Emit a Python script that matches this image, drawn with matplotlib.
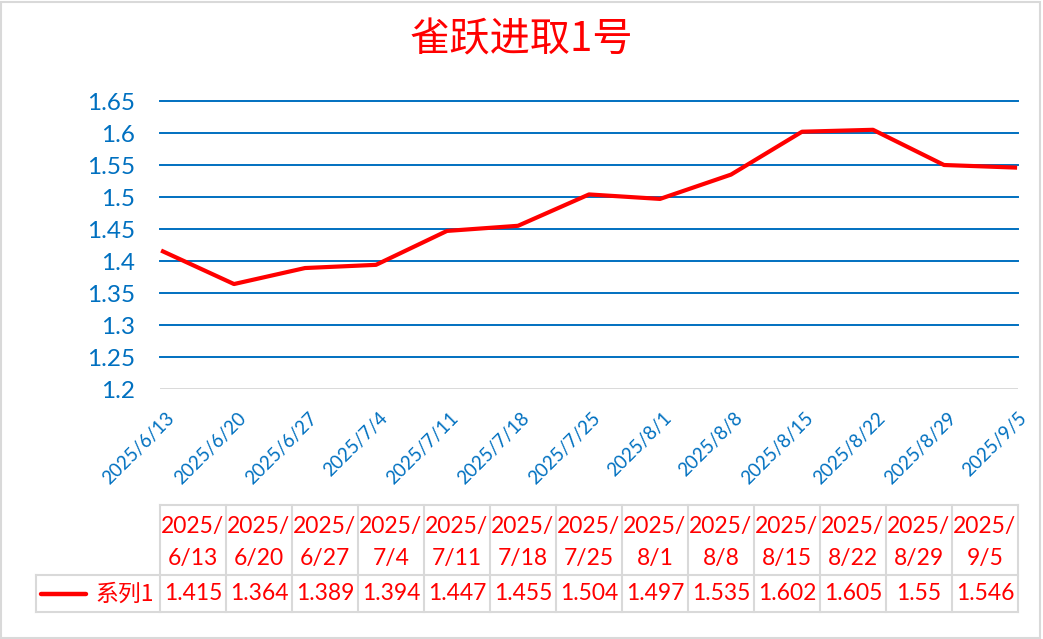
import matplotlib.pyplot as plt
import numpy as np
from matplotlib.patches import Rectangle
from matplotlib.transforms import ScaledTranslation

# chart data
dates = ['2025/6/13', '2025/6/20', '2025/6/27', '2025/7/4', '2025/7/11',
         '2025/7/18', '2025/7/25', '2025/8/1', '2025/8/8', '2025/8/15',
         '2025/8/22', '2025/8/29', '2025/9/5']
values = [1.415, 1.364, 1.389, 1.394, 1.447, 1.455, 1.504, 1.497,
          1.535, 1.602, 1.605, 1.55, 1.546]
value_labels = ['1.415', '1.364', '1.389', '1.394', '1.447', '1.455', '1.504',
                '1.497', '1.535', '1.602', '1.605', '1.55', '1.546']
yticks = [1.2, 1.25, 1.3, 1.35, 1.4, 1.45, 1.5, 1.55, 1.6, 1.65]
series_name = '系列1'
title = '雀跃进取1号'

RED = '#FF0000'
BLUE = '#0070C0'
GRID_GRAY = '#D9D9D9'
W, H = 1043, 639

fig = plt.figure(figsize=(W / 100, H / 100), dpi=100)


def px(x0, y0, x1, y1):
    """pixel box (top-left origin) -> figure fraction rect"""
    return [x0 / W, 1 - y1 / H, (x1 - x0) / W, (y1 - y0) / H]


# outer border
fig.patches.append(Rectangle((1 / W, 1 / H), 1 - 4 / W, 1 - 3 / H,
                             transform=fig.transFigure, fill=False,
                             edgecolor=GRID_GRAY, linewidth=1.5))

fig.text(0.5, 1 - 40 / H, title, ha='center', va='center', color=RED,
         fontsize=29, family=['Noto Sans CJK SC', 'DejaVu Sans'])

# line chart
ax = fig.add_axes(px(160, 101, 1018, 389))
x = np.arange(len(values))
ax.plot(x, values, color=RED, linewidth=3, solid_joinstyle='round', zorder=3)
ax.set_xlim(-0.042, len(values) - 1 + 0.042)
ax.set_ylim(1.2, 1.65)
ax.set_yticks(yticks)
ax.set_yticklabels(['%g' % v for v in yticks])
for v in yticks[1:]:
    ax.axhline(v, color=BLUE, linewidth=1.4, zorder=1, clip_on=False)
ax.axhline(1.2, color=GRID_GRAY, linewidth=1.4, zorder=1)
for s in ax.spines.values():
    s.set_visible(False)
ax.tick_params(axis='y', length=0, pad=18, labelcolor=BLUE, labelsize=17.5)
ax.tick_params(axis='x', length=0, pad=0, labelcolor=BLUE, labelsize=13.5)
for lab in ax.get_yticklabels():
    lab.set_family('Lato')
ax.set_xticks(x)
ax.set_xticklabels(dates, rotation=45, ha='right', va='center',
                   rotation_mode='anchor', family='Lato')
off = ScaledTranslation(9 / 100, -26 / 100, fig.dpi_scale_trans)
for lab in ax.get_xticklabels():
    lab.set_transform(lab.get_transform() + off)

# data table
tab = fig.add_axes(px(36, 505, 1018, 612))
leg_w = 124 / 66
tab.set_xlim(-leg_w, len(values))
tab.set_ylim(107, 0)
tab.axis('off')
lw = 1.5
tab.plot([0, len(values)], [0, 0], color=GRID_GRAY, lw=lw, clip_on=False)
tab.plot([-leg_w, len(values)], [70, 70], color=GRID_GRAY, lw=lw, clip_on=False)
tab.plot([-leg_w, len(values)], [107, 107], color=GRID_GRAY, lw=lw, clip_on=False)
tab.plot([-leg_w, -leg_w], [70, 107], color=GRID_GRAY, lw=lw, clip_on=False)
for i in range(len(values) + 1):
    tab.plot([i, i], [0, 107], color=GRID_GRAY, lw=lw, clip_on=False)
for i, (d, v) in enumerate(zip(dates, value_labels)):
    y0, rest = d.split('/', 1)
    tab.text(i + 0.5, 22, y0 + '/', ha='center', va='center', color=RED,
             fontsize=16.5, family='Lato')
    tab.text(i + 0.5, 53, rest, ha='center', va='center', color=RED,
             fontsize=16.5, family='Lato')
    tab.text(i + 0.5, 89, v, ha='center', va='center', color=RED,
             fontsize=16.5, family='Lato')
tab.plot([-leg_w + 5 / 66, -leg_w + 50 / 66], [89, 89], color=RED, lw=3.2,
         solid_capstyle='round')
tab.text(-6 / 66, 89, series_name, ha='right', va='center',
         color=RED, fontsize=16.5, family=['Noto Sans CJK SC', 'DejaVu Sans'])

fig.savefig('out.png', dpi=100)
